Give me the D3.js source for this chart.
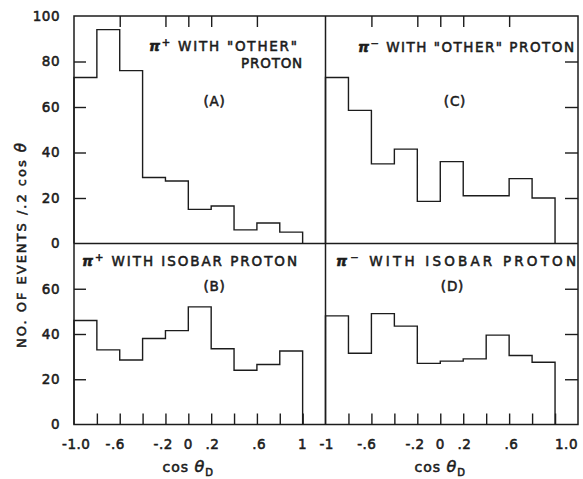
<!DOCTYPE html>
<html><head><meta charset="utf-8">
<script src="https://cdn.jsdelivr.net/npm/d3@7"></script>
<style>
body{margin:0;background:#fff}
svg text{font-family:"DejaVu Sans",sans-serif;fill:#1c1c1c;stroke:#1c1c1c;stroke-width:0.55px}
</style>
</head><body>
<svg id="chart" width="583" height="479"></svg>
<script>
// bin edges in cos θ_D (width 0.2)
const binEdges = [-1, -0.8, -0.6, -0.4, -0.2, 0, 0.2, 0.4, 0.6, 0.8, 1];
// events per bin
const panelA = [73, 94, 76, 29, 27.5, 15, 16.5, 6, 9, 5];       // π+ with "other" proton
const panelB = [46, 33, 28.5, 38, 41.5, 52, 33.5, 24, 26.5, 32.5]; // π+ with isobar proton
const panelC = [73, 58.5, 35, 41.5, 18.5, 36, 21, 21, 28.5, 20];   // π- with "other" proton
const panelD = [48, 31.5, 49, 43.5, 27, 28, 29, 39.5, 30.5, 27.5]; // π- with isobar proton

const topYTicks = [0, 20, 40, 60, 80, 100];
const bottomYTicks = [0, 20, 40, 60];
const topXTicks = [-0.6, -0.2, 0, 0.2, 0.6];
const bottomXTicks = [-0.8, -0.6, -0.4, -0.2, 0, 0.2, 0.4, 0.6, 0.8, 1];
const leftXLabels = ["-1.0", "-.6", "-.2", "0", ".2", ".6", "1"];
const leftXLabelAt = [-0.98, -0.64, -0.22, 0, 0.21, 0.62, 1];
const rightXLabels = ["-1", "-.6", "-.2", "0", ".2", ".6", "1.0"];
const rightXLabelAt = [-0.99, -0.64, -0.22, 0, 0.21, 0.62, 1.1];

const svg = d3.select("#chart");
const ink = "#1c1c1c";

const xL = d3.scaleLinear().domain([-1, 1.2]).range([74, 325.5]);
const xR = d3.scaleLinear().domain([-1, 1.2]).range([325.5, 578]);
const yT = d3.scaleLinear().domain([0, 100]).range([243.5, 16]);
const yB = d3.scaleLinear().domain([0, 80]).range([424.5, 243.5]);

// frame and dividers
const g = svg.append("g").attr("fill", "none").attr("stroke", ink).attr("stroke-width", 1.5);
g.append("rect").attr("x", xL(-1)).attr("y", yT(100))
  .attr("width", xR(1.2) - xL(-1)).attr("height", yB(0) - yT(100));
g.append("line").attr("x1", xL(1.2)).attr("x2", xL(1.2)).attr("y1", yT(100)).attr("y2", yB(0));
g.append("line").attr("x1", xL(-1)).attr("x2", xR(1.2)).attr("y1", yT(0)).attr("y2", yT(0));

// step histogram outline
function histo(values, x, y) {
  const p = d3.path();
  p.moveTo(x(binEdges[0]), y(0));
  values.forEach((v, i) => {
    p.lineTo(x(binEdges[i]), y(v));
    p.lineTo(x(binEdges[i + 1]), y(v));
  });
  p.lineTo(x(binEdges[binEdges.length - 1]), y(0));
  svg.append("path").attr("d", p.toString()).attr("fill", "none")
    .attr("stroke", ink).attr("stroke-width", 1.4).attr("stroke-linejoin", "miter");
}
histo(panelA, xL, yT);
histo(panelB, xL, yB);
histo(panelC, xR, yT);
histo(panelD, xR, yB);

function tickAxis(axis, tx, ty) {
  const a = svg.append("g").attr("transform", `translate(${tx},${ty})`).call(axis);
  a.select(".domain").remove();
  a.selectAll("line").attr("stroke", ink).attr("stroke-width", 1.4);
  return a;
}
// inward y ticks
tickAxis(d3.axisRight(yT).tickValues([20, 40, 60, 80]).tickSize(12).tickFormat(""), xL(-1), 0);
tickAxis(d3.axisRight(yB).tickValues([20, 40, 60]).tickSize(12).tickFormat(""), xL(-1), 0);
tickAxis(d3.axisLeft(yT).tickValues([20, 40, 60, 80]).tickSize(13).tickFormat(""), xR(1.2), 0);
tickAxis(d3.axisLeft(yB).tickValues([20, 40, 60]).tickSize(13).tickFormat(""), xR(1.2), 0);
// inward x ticks
tickAxis(d3.axisBottom(xL).tickValues(topXTicks).tickSize(11).tickFormat(""), 0, yT(100));
tickAxis(d3.axisBottom(xR).tickValues(topXTicks).tickSize(11).tickFormat(""), 0, yT(100));
tickAxis(d3.axisTop(xL).tickValues(bottomXTicks).tickSize(11).tickFormat(""), 0, yB(0));
tickAxis(d3.axisTop(xR).tickValues(bottomXTicks).tickSize(11).tickFormat(""), 0, yB(0));

// y tick labels
function yLabels(scale, vals) {
  const a = svg.append("g").attr("transform", `translate(${xL(-1)},0)`)
    .call(d3.axisLeft(scale).tickValues(vals).tickSize(0).tickPadding(14).tickFormat(d3.format("d")));
  a.select(".domain").remove();
  a.selectAll("text").attr("font-size", 13.5).attr("font-family", null).attr("fill", null)
    .attr("letter-spacing", "0.5px");
}
yLabels(yT, topYTicks);
yLabels(yB, bottomYTicks);

// x tick labels
function xLabels(scale, labels, at) {
  svg.append("g").selectAll("text").data(labels).join("text")
    .attr("x", (d, i) => scale(at[i])).attr("y", 449)
    .attr("text-anchor", "middle").attr("font-size", 13.5).attr("letter-spacing", "0.5px")
    .text(d => d);
}
xLabels(xL, leftXLabels, leftXLabelAt);
xLabels(xR, rightXLabels, rightXLabelAt);

// x axis titles
function xTitle(scale) {
  const t = svg.append("text").attr("x", scale(0)).attr("y", 472)
    .attr("text-anchor", "middle").attr("font-size", 14).attr("letter-spacing", "1px");
  t.append("tspan").text("cos ");
  t.append("tspan").attr("font-style", "italic").attr("font-size", 16).text("θ");
  t.append("tspan").attr("font-size", 10).attr("dy", 4).text("D");
}
xTitle(xL);
xTitle(xR);

// y axis title
const yt = svg.append("text").attr("transform", "translate(26,245.5) rotate(-90)")
  .attr("text-anchor", "middle").attr("font-size", 13)
  .attr("textLength", 205).attr("lengthAdjust", "spacing");
yt.append("tspan").text("NO. OF EVENTS /.2 cos ");
yt.append("tspan").attr("font-style", "italic").attr("font-size", 15).text("θ");

// panel titles
function title(x, y, sign, rest, len) {
  const t = svg.append("text").attr("x", x).attr("y", y).attr("font-size", 13.5)
    .attr("textLength", len).attr("lengthAdjust", "spacing");
  t.append("tspan").attr("font-style", "italic").attr("font-weight", "bold").attr("font-size", 14).text("π");
  t.append("tspan").attr("font-size", 10).attr("dy", -5).text(sign);
  t.append("tspan").attr("dy", 5).text(" " + rest);
}
function plain(x, y, s, anchor, len) {
  const t = svg.append("text").attr("x", x).attr("y", y).attr("font-size", 13.5)
    .attr("text-anchor", anchor).attr("letter-spacing", "0.8px").text(s);
  if (len) t.attr("textLength", len).attr("lengthAdjust", "spacing");
}
title(149, 51, "+", "WITH \"OTHER\"", 148);
plain(303, 67.5, "PROTON", "end");
plain(214.5, 106, "(A)", "middle");
title(358, 51.5, "−", "WITH \"OTHER\" PROTON", 216);
plain(455, 106, "(C)", "middle");
title(82, 265.5, "+", "WITH ISOBAR PROTON", 215);
plain(214.5, 290.5, "(B)", "middle");
title(336, 266, "−", "WITH ISOBAR PROTON", 240);
plain(452.5, 290.5, "(D)", "middle");
</script>
</body></html>
